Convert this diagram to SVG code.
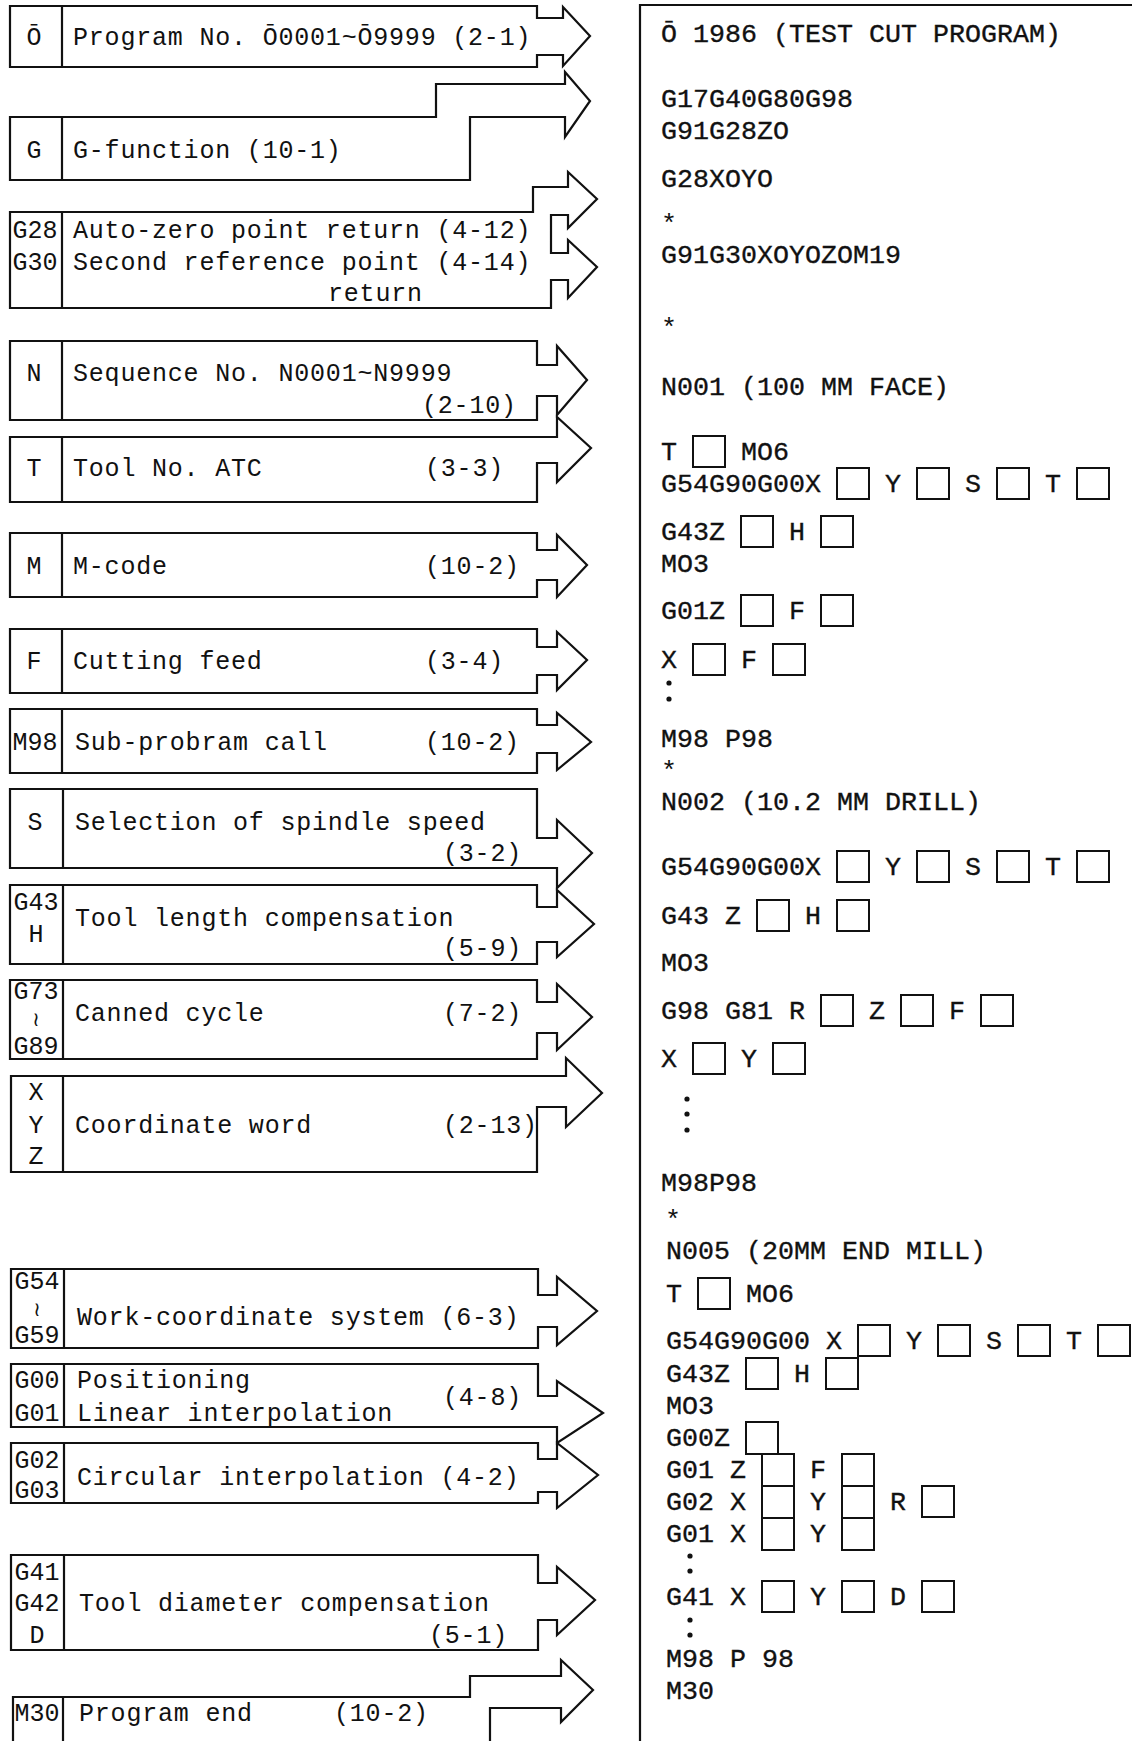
<svg xmlns="http://www.w3.org/2000/svg" width="1132" height="1741" viewBox="0 0 1132 1741" xml:space="preserve">
<style>
.o{fill:none;stroke:#111;stroke-width:2.2;stroke-linejoin:miter}
.lab{font-family:"Liberation Mono","DejaVu Sans Mono",monospace;font-size:25px;fill:#111;text-anchor:middle}
.wv{font-family:"DejaVu Sans Mono","DejaVu Sans",monospace;font-size:20px;fill:#111;text-anchor:middle}
.d{font-family:"Liberation Mono","DejaVu Sans Mono",monospace;font-size:25px;letter-spacing:0.8px;fill:#111;white-space:pre}
.c{font-family:"Liberation Mono","DejaVu Sans Mono",monospace;font-size:26.67px;fill:#111;stroke:#111;stroke-width:0.35px;white-space:pre}
.ast{font-family:"Liberation Mono","DejaVu Sans Mono",monospace;font-size:26.67px;fill:#111}
.bx{fill:none;stroke:#111;stroke-width:2}
.dot{fill:#111}
</style>
<rect width="1132" height="1741" fill="#fff"/>

<g id="connectors">
<path class="o" d="M10,6 H537 V18 H563 V7 L590,36 L563,66 V55 H537 V67 H10 Z"/>
<path class="o" d="M10,117 H436 V84 H565 V72 L590,101 L565,137 V117 H470 V180 H10 Z"/>
<path class="o" d="M10,212 H533 V187 H568 V172 L597,199 L568,228 V215 H551 V253 H568 V240 L597,267 L568,298 V280 H551 V308 H10 Z"/>
<path class="o" d="M10,341 H537 V365 H557 V346 L587,380 L557,415 V396 H537 V420 H10 Z"/>
<path class="o" d="M10,437 H557 V417 L591,448 L557,482 V463 H537 V502 H10 Z"/>
<path class="o" d="M10,533 H537 V550 H557 V535 L587,565 L557,597 V580 H537 V597 H10 Z"/>
<path class="o" d="M10,629 H537 V647 H557 V632 L587,660 L557,690 V675 H537 V693 H10 Z"/>
<path class="o" d="M10,709 H537 V725 H557 V713 L591,742 L557,770 V753 H537 V773 H10 Z"/>
<path class="o" d="M10,789 H537 V838 H557 V820 L592,853 L557,888 V868 H10 Z"/>
<path class="o" d="M10,885 H537 V907 H557 V890 L594,924 L557,957 V942 H537 V964 H10 Z"/>
<path class="o" d="M10,980 H537 V1002 H557 V984 L592,1017 L557,1050 V1033 H537 V1059 H10 Z"/>
<path class="o" d="M11,1076 H566 V1058 L602,1093 L566,1127 V1107 H537 V1172 H11 Z"/>
<path class="o" d="M11,1269 H538 V1295 H557 V1277 L597,1311 L557,1345 V1327 H538 V1348 H11 Z"/>
<path class="o" d="M11,1364 H538 V1396 H557 V1381 L603,1413 L557,1443 V1427 H11 Z"/>
<path class="o" d="M11,1443 H538 V1459 H557 V1443 L598,1475 L557,1508 V1492 H538 V1503 H11 Z"/>
<path class="o" d="M11,1555 H538 V1583 H557 V1567 L595,1600 L557,1635 V1620 H538 V1650 H11 Z"/>
<path class="o" d="M13,1741 V1697 H470 V1676 H561 V1660 L593,1690 L561,1722 V1708 H490 V1741"/>
</g>

<g id="n-O"><path class="o" d="M62,6 V67"/><text class="lab" x="34" y="45">Ō</text><text class="d" x="73" y="45">Program No. Ō0001~Ō9999 (2-1)</text></g>
<g id="n-G"><path class="o" d="M62,117 V180"/><text class="lab" x="34" y="158">G</text><text class="d" x="73" y="158">G-function (10-1)</text></g>
<g id="n-G28"><path class="o" d="M62,212 V308"/><text class="lab" x="35" y="238">G28</text><text class="lab" x="35" y="270">G30</text><text class="d" x="73" y="238">Auto-zero point return (4-12)</text><text class="d" x="73" y="270">Second reference point (4-14)</text><text class="d" x="328" y="301">return</text></g>
<g id="n-N"><path class="o" d="M62,341 V420"/><text class="lab" x="34" y="381">N</text><text class="d" x="73" y="381">Sequence No. N0001~N9999</text><text class="d" x="422" y="413">(2-10)</text></g>
<g id="n-T"><path class="o" d="M62,437 V502"/><text class="lab" x="34" y="476">T</text><text class="d" x="73" y="476">Tool No. ATC</text><text class="d" x="425" y="476">(3-3)</text></g>
<g id="n-M"><path class="o" d="M62,533 V597"/><text class="lab" x="34" y="574">M</text><text class="d" x="73" y="574">M-code</text><text class="d" x="425" y="574">(10-2)</text></g>
<g id="n-F"><path class="o" d="M62,629 V693"/><text class="lab" x="34" y="669">F</text><text class="d" x="73" y="669">Cutting feed</text><text class="d" x="425" y="669">(3-4)</text></g>
<g id="n-M98"><path class="o" d="M62,709 V773"/><text class="lab" x="35" y="750">M98</text><text class="d" x="75" y="750">Sub-probram call</text><text class="d" x="425" y="750">(10-2)</text></g>
<g id="n-S"><path class="o" d="M63,789 V868"/><text class="lab" x="35" y="830">S</text><text class="d" x="75" y="830">Selection of spindle speed</text><text class="d" x="443" y="861">(3-2)</text></g>
<g id="n-G43"><path class="o" d="M63,885 V964"/><text class="lab" x="36" y="910">G43</text><text class="lab" x="36" y="942">H</text><text class="d" x="75" y="926">Tool length compensation</text><text class="d" x="443" y="956">(5-9)</text></g>
<g id="n-G73"><path class="o" d="M63,980 V1059"/><text class="lab" x="36" y="999">G73</text><text class="wv" x="36" y="1026">≀</text><text class="lab" x="36" y="1054">G89</text><text class="d" x="75" y="1021">Canned cycle</text><text class="d" x="443" y="1021">(7-2)</text></g>
<g id="n-XYZ"><path class="o" d="M63,1076 V1172"/><text class="lab" x="36" y="1100">X</text><text class="lab" x="36" y="1133">Y</text><text class="lab" x="36" y="1164">Z</text><text class="d" x="75" y="1133">Coordinate word</text><text class="d" x="443" y="1133">(2-13)</text></g>
<g id="n-G54"><path class="o" d="M64,1269 V1348"/><text class="lab" x="37" y="1289">G54</text><text class="wv" x="37" y="1316">≀</text><text class="lab" x="37" y="1343">G59</text><text class="d" x="77" y="1325">Work-coordinate system (6-3)</text></g>
<g id="n-G00"><path class="o" d="M64,1364 V1427"/><text class="lab" x="37" y="1388">G00</text><text class="lab" x="37" y="1421">G01</text><text class="d" x="77" y="1388">Positioning</text><text class="d" x="77" y="1421">Linear interpolation</text><text class="d" x="443" y="1405">(4-8)</text></g>
<g id="n-G02"><path class="o" d="M64,1443 V1503"/><text class="lab" x="37" y="1468">G02</text><text class="lab" x="37" y="1498">G03</text><text class="d" x="77" y="1485">Circular interpolation (4-2)</text></g>
<g id="n-G41"><path class="o" d="M64,1555 V1650"/><text class="lab" x="37" y="1580">G41</text><text class="lab" x="37" y="1611">G42</text><text class="lab" x="37" y="1643">D</text><text class="d" x="79" y="1611">Tool diameter compensation</text><text class="d" x="429" y="1643">(5-1)</text></g>
<g id="n-M30"><path class="o" d="M63,1697 V1741"/><text class="lab" x="37" y="1721">M30</text><text class="d" x="79" y="1721">Program end</text><text class="d" x="334" y="1721">(10-2)</text></g>

<g id="program">
<path class="o" d="M640,1741 V5 H1132"/>
<text class="c" x="661" y="42">Ō 1986 (TEST CUT PROGRAM)</text>
<text class="c" x="661" y="107">G17G40G80G98</text>
<text class="c" x="661" y="139">G91G28ZO</text>
<text class="c" x="661" y="187">G28XOYO</text>
<text class="ast" x="661" y="232">*</text>
<text class="c" x="661" y="263">G91G30XOYOZOM19</text>
<text class="ast" x="661" y="336">*</text>
<text class="c" x="661" y="395">N001 (100 MM FACE)</text>
<text class="c" x="661" y="460">T    MO6</text>
<rect class="bx" x="693" y="436" width="32" height="31"/>
<text class="c" x="661" y="492">G54G90G00X    Y    S    T</text>
<rect class="bx" x="837" y="468" width="32" height="31"/><rect class="bx" x="917" y="468" width="32" height="31"/><rect class="bx" x="997" y="468" width="32" height="31"/><rect class="bx" x="1077" y="468" width="32" height="31"/>
<text class="c" x="661" y="540">G43Z    H</text>
<rect class="bx" x="741" y="516" width="32" height="31"/><rect class="bx" x="821" y="516" width="32" height="31"/>
<text class="c" x="661" y="572">MO3</text>
<text class="c" x="661" y="619">G01Z    F</text>
<rect class="bx" x="741" y="595" width="32" height="31"/><rect class="bx" x="821" y="595" width="32" height="31"/>
<text class="c" x="661" y="668">X    F</text>
<rect class="bx" x="693" y="644" width="32" height="31"/><rect class="bx" x="773" y="644" width="32" height="31"/>
<circle class="dot" cx="669" cy="683" r="2.6"/><circle class="dot" cx="669" cy="699" r="2.6"/>
<text class="c" x="661" y="747">M98 P98</text>
<text class="ast" x="661" y="778.5">*</text>
<text class="c" x="661" y="810">N002 (10.2 MM DRILL)</text>
<text class="c" x="661" y="875">G54G90G00X    Y    S    T</text>
<rect class="bx" x="837" y="851" width="32" height="31"/><rect class="bx" x="917" y="851" width="32" height="31"/><rect class="bx" x="997" y="851" width="32" height="31"/><rect class="bx" x="1077" y="851" width="32" height="31"/>
<text class="c" x="661" y="924">G43 Z    H</text>
<rect class="bx" x="757" y="900" width="32" height="31"/><rect class="bx" x="837" y="900" width="32" height="31"/>
<text class="c" x="661" y="971">MO3</text>
<text class="c" x="661" y="1019">G98 G81 R    Z    F</text>
<rect class="bx" x="821" y="995" width="32" height="31"/><rect class="bx" x="901" y="995" width="32" height="31"/><rect class="bx" x="981" y="995" width="32" height="31"/>
<text class="c" x="661" y="1067">X    Y</text>
<rect class="bx" x="693" y="1043" width="32" height="31"/><rect class="bx" x="773" y="1043" width="32" height="31"/>
<circle class="dot" cx="687" cy="1099" r="2.6"/><circle class="dot" cx="687" cy="1114" r="2.6"/><circle class="dot" cx="687" cy="1130" r="2.6"/>
<text class="c" x="661" y="1191">M98P98</text>
<text class="ast" x="665" y="1228">*</text>
<text class="c" x="666" y="1259">N005 (20MM END MILL)</text>
<text class="c" x="666" y="1302">T    MO6</text>
<rect class="bx" x="698" y="1278" width="32" height="31"/>
<text class="c" x="666" y="1349">G54G90G00 X    Y    S    T</text>
<rect class="bx" x="858" y="1325" width="32" height="31"/><rect class="bx" x="938" y="1325" width="32" height="31"/><rect class="bx" x="1018" y="1325" width="32" height="31"/><rect class="bx" x="1098" y="1325" width="32" height="31"/>
<text class="c" x="666" y="1382">G43Z    H</text>
<rect class="bx" x="746" y="1358" width="32" height="31"/><rect class="bx" x="826" y="1358" width="32" height="31"/>
<text class="c" x="666" y="1414">MO3</text>
<text class="c" x="666" y="1446">G00Z</text>
<rect class="bx" x="746" y="1422" width="32" height="32"/>
<text class="c" x="666" y="1478">G01 Z    F</text>
<rect class="bx" x="762" y="1454" width="32" height="32"/><rect class="bx" x="842" y="1454" width="32" height="32"/>
<text class="c" x="666" y="1510">G02 X    Y    R</text>
<rect class="bx" x="762" y="1486" width="32" height="32"/><rect class="bx" x="842" y="1486" width="32" height="32"/><rect class="bx" x="922" y="1486" width="32" height="31"/>
<text class="c" x="666" y="1542">G01 X    Y</text>
<rect class="bx" x="762" y="1518" width="32" height="32"/><rect class="bx" x="842" y="1518" width="32" height="32"/>
<circle class="dot" cx="690" cy="1556" r="2.6"/><circle class="dot" cx="690" cy="1571" r="2.6"/>
<text class="c" x="666" y="1605">G41 X    Y    D</text>
<rect class="bx" x="762" y="1581" width="32" height="31"/><rect class="bx" x="842" y="1581" width="32" height="31"/><rect class="bx" x="922" y="1581" width="32" height="31"/>
<circle class="dot" cx="690" cy="1620" r="2.6"/><circle class="dot" cx="690" cy="1635" r="2.6"/>
<text class="c" x="666" y="1667">M98 P 98</text>
<text class="c" x="666" y="1699">M30</text>
</g>
</svg>
